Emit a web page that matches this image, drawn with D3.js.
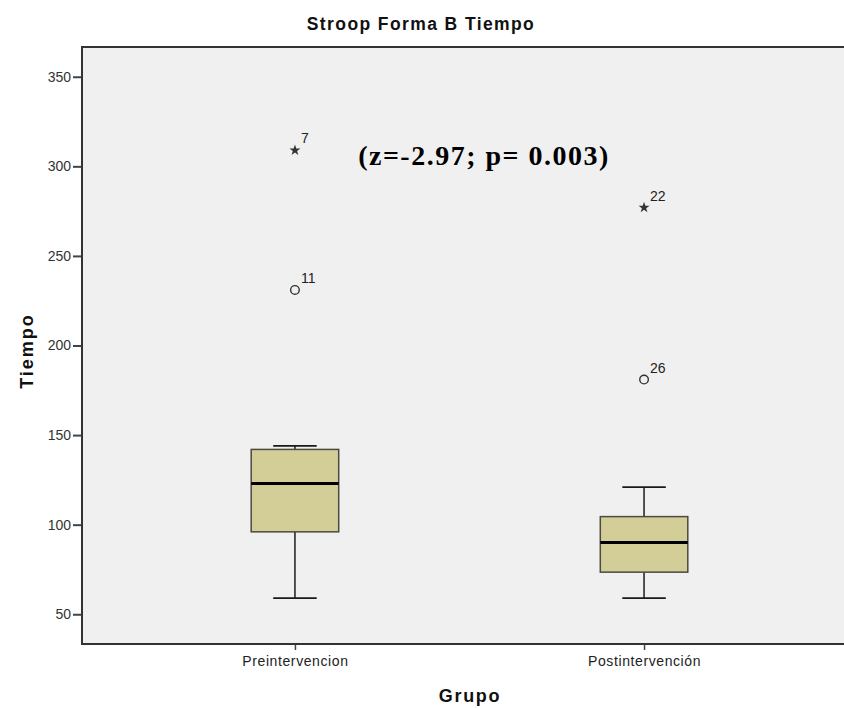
<!DOCTYPE html>
<html>
<head>
<meta charset="utf-8">
<script src="https://cdn.jsdelivr.net/npm/d3@7"></script>
<style>
  html, body { margin: 0; padding: 0; background: #ffffff; }
  svg { display: block; }
</style>
</head>
<body>
<div id="chart"></div>
<script>
// Stroop Forma B — time per group (boxplot summary)
const groups = ["Preintervencion", "Postintervención"];
const whiskerLow = [59, 59];
const q1 = [96, 73.5];
const median = [123, 90];
const q3 = [142, 104.5];
const whiskerHigh = [144, 121];

// Outliers: circles are mild, stars are extreme
const outlierGroup = ["Preintervencion", "Preintervencion", "Postintervención", "Postintervención"];
const outlierValue = [309, 231, 277, 181];
const outlierCase = ["7", "11", "22", "26"];
const outlierKind = ["star", "circle", "star", "circle"];

const yTicks = [50, 100, 150, 200, 250, 300, 350];

const W = 844, H = 708;
const margin = { left: 82, top: 47, right: -13, bottom: 64 };
const plotW = W - margin.left - margin.right;
const plotH = H - margin.top - margin.bottom;

const svg = d3.select("#chart").append("svg")
  .attr("width", W).attr("height", H);

const x = d3.scalePoint().domain(groups).range([0, plotW]).padding(0.61);
const y = d3.scaleLinear().domain([33.4, 366.6]).range([plotH, 0]);

const g = svg.append("g").attr("transform", `translate(${margin.left},${margin.top})`);

// plot background
g.append("rect").attr("x", 0).attr("y", 0).attr("width", plotW).attr("height", plotH)
  .attr("fill", "#f0f0f0");

const boxW = 87.5, capW = 43.5;

const boxes = g.selectAll("g.box").data(groups).join("g").attr("class", "box");

// whisker stems
boxes.append("line")
  .attr("x1", d => x(d)).attr("x2", d => x(d))
  .attr("y1", (d, i) => y(whiskerHigh[i])).attr("y2", (d, i) => y(q3[i]))
  .attr("stroke", "#2a2a2a").attr("stroke-width", 1.6);
boxes.append("line")
  .attr("x1", d => x(d)).attr("x2", d => x(d))
  .attr("y1", (d, i) => y(q1[i])).attr("y2", (d, i) => y(whiskerLow[i]))
  .attr("stroke", "#2a2a2a").attr("stroke-width", 1.6);
// caps
[whiskerHigh, whiskerLow].forEach(arr => {
  boxes.append("line")
    .attr("x1", d => x(d) - capW / 2).attr("x2", d => x(d) + capW / 2)
    .attr("y1", (d, i) => y(arr[i])).attr("y2", (d, i) => y(arr[i]))
    .attr("stroke", "#1a1a1a").attr("stroke-width", 1.8);
});
// box
boxes.append("rect")
  .attr("x", d => x(d) - boxW / 2).attr("width", boxW)
  .attr("y", (d, i) => y(q3[i])).attr("height", (d, i) => y(q1[i]) - y(q3[i]))
  .attr("fill", "#d3ce97").attr("stroke", "#4a4a40").attr("stroke-width", 1.5);
// median
boxes.append("line")
  .attr("x1", d => x(d) - boxW / 2).attr("x2", d => x(d) + boxW / 2)
  .attr("y1", (d, i) => y(median[i])).attr("y2", (d, i) => y(median[i]))
  .attr("stroke", "#000").attr("stroke-width", 3);

// outliers
const outliers = outlierValue.map((v, i) => ({ g: outlierGroup[i], v, c: outlierCase[i], k: outlierKind[i] }));
const star = d3.symbol().type(d3.symbolStar).size(38);
outliers.forEach(o => {
  const cx = x(o.g), cy = y(o.v);
  if (o.k === "star") {
    g.append("path").attr("d", star).attr("transform", `translate(${cx},${cy})`)
      .attr("fill", "#333");
  } else {
    g.append("circle").attr("cx", cx).attr("cy", cy).attr("r", 4.3)
      .attr("fill", "none").attr("stroke", "#333").attr("stroke-width", 1.4);
  }
  g.append("text").attr("x", cx + 6).attr("y", cy - 7)
    .attr("font-family", "Liberation Sans, Arial, sans-serif").attr("font-size", 14)
    .attr("fill", "#222").text(o.c);
});

// axes
const yAxis = g.append("g").call(d3.axisLeft(y).tickValues(yTicks).tickSize(9).tickPadding(2));
yAxis.select(".domain").remove();
yAxis.selectAll(".tick line").attr("stroke", "#444").attr("stroke-width", 2);
yAxis.selectAll(".tick text").attr("font-family", "Liberation Sans, Arial, sans-serif")
  .attr("font-size", 14).attr("fill", "#333");

const xAxis = g.append("g").attr("transform", `translate(0,${plotH})`)
  .call(d3.axisBottom(x).tickSize(6).tickPadding(6));
xAxis.select(".domain").remove();
xAxis.selectAll(".tick line").attr("stroke", "#444").attr("stroke-width", 1.5);
xAxis.selectAll(".tick text").attr("font-family", "Liberation Sans, Arial, sans-serif")
  .attr("font-size", 14).attr("fill", "#222").attr("letter-spacing", 0.6);

// frame: left, top, bottom
g.append("path")
  .attr("d", `M${plotW},0 H0 V${plotH} H${plotW}`)
  .attr("fill", "none").attr("stroke", "#333").attr("stroke-width", 2);

// titles
svg.append("text").attr("x", 421).attr("y", 30).attr("text-anchor", "middle")
  .attr("font-family", "Liberation Sans, Arial, sans-serif").attr("font-weight", "bold")
  .attr("font-size", 17.5).attr("letter-spacing", 1.4).attr("fill", "#111").text("Stroop Forma B Tiempo");

svg.append("text").attr("transform", "translate(33,351) rotate(-90)").attr("text-anchor", "middle")
  .attr("font-family", "Liberation Sans, Arial, sans-serif").attr("font-weight", "bold")
  .attr("font-size", 18).attr("letter-spacing", 2).attr("fill", "#111").text("Tiempo");

svg.append("text").attr("x", 470).attr("y", 702).attr("text-anchor", "middle")
  .attr("font-family", "Liberation Sans, Arial, sans-serif").attr("font-weight", "bold")
  .attr("font-size", 18).attr("letter-spacing", 1.7).attr("fill", "#111").text("Grupo");

// test statistic annotation
svg.append("text").attr("x", 484).attr("y", 165).attr("text-anchor", "middle")
  .attr("font-family", "Liberation Serif, Times New Roman, serif").attr("font-weight", "bold")
  .attr("font-size", 28).attr("letter-spacing", 1.5).attr("fill", "#000").text("(z=-2.97; p= 0.003)");
</script>
</body>
</html>
